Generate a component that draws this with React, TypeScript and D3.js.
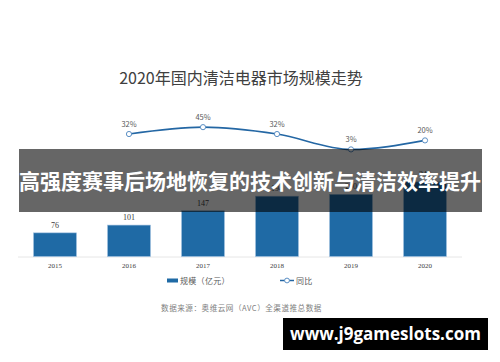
import React from "react";
import * as d3 from "d3";

const years = ["2015", "2016", "2017", "2018", "2019", "2020"];
const scale = [76, 101, 147, 194, 200, 240];
const yoyYears = ["2016", "2017", "2018", "2019", "2020"];
const yoy = [32, 45, 32, 3, 20];
const title = "2020年国内清洁电器市场规模走势";
const legendBar = "规模（亿元）";
const legendLine = "同比";
const source = "数据来源：奥维云网（AVC）全渠道推总数据";
const overlay = "高强度赛事后场地恢复的技术创新与清洁效率提升";
const watermark = "www.j9gameslots.com";

const W = 500;
const H = 362;
const BAR = "#1f6aa5";
const LINE = "#2467a4";

export default function App() {
  const x = d3.scaleBand().domain(years).range([18, 462]).paddingInner(0.42).paddingOuter(0.21);
  const xc = (d: string) => (x(d) as number) + x.bandwidth() / 2;
  const yBar = d3.scaleLinear().domain([0, 300]).range([256.5, 163.2]);
  const yLine = d3.scaleLinear().domain([0, 100]).range([151, 98]);
  const lineGen = d3
    .line<number>()
    .x((_, i) => xc(yoyYears[i]))
    .y((d) => yLine(d))
    .curve(d3.curveMonotoneX);

  const serif = "'Liberation Serif', 'DejaVu Serif', serif";
  const cjk = "'Noto Sans CJK SC', sans-serif";

  return (
    <svg width={W} height={H} style={{ position: "absolute", left: 0, top: 0, background: "#fff" }}>
      <rect width={W} height={H} fill="#fff" />
      <text x={241} y={84} textAnchor="middle" fontSize={16} fill="#404040" fontFamily={cjk}>
        {title}
      </text>

      {/* axis line */}
      <line x1={18} x2={462} y1={257} y2={257} stroke="#e6e6e6" strokeWidth={1} />

      {years.map((yr, i) => (
        <g key={yr}>
          <rect
            x={x(yr)}
            y={yBar(scale[i])}
            width={x.bandwidth()}
            height={yBar(0) - yBar(scale[i])}
            fill={BAR}
            stroke="#9dbfdf"
            strokeWidth={0.6}
          />
          <text x={xc(yr)} y={yBar(scale[i]) - 5} textAnchor="middle" fontSize={8} fill="#404040" fontFamily={serif}>
            {scale[i]}
          </text>
          <text x={xc(yr)} y={268} textAnchor="middle" fontSize={7} fill="#404040" fontFamily={serif}>
            {yr}
          </text>
        </g>
      ))}

      <path d={lineGen(yoy) || ""} fill="none" stroke={LINE} strokeWidth={1.6} />
      {yoy.map((v, i) => (
        <g key={i}>
          <circle cx={xc(yoyYears[i])} cy={yLine(v)} r={2.6} fill="#fff" stroke="#5b8fc4" strokeWidth={1} />
          <text x={xc(yoyYears[i])} y={yLine(v) - 7} textAnchor="middle" fontSize={7.5} fill="#595959" fontFamily={cjk}>
            {v}%
          </text>
        </g>
      ))}

      {/* legend */}
      <rect x={167} y={278.5} width={11} height={4} fill={BAR} />
      <text x={180} y={284} fontSize={8} letterSpacing={0.3} fill="#595959" fontFamily={cjk}>
        {legendBar}
      </text>
      <line x1={280} x2={294} y1={280.5} y2={280.5} stroke={LINE} strokeWidth={1.5} />
      <circle cx={287} cy={280.5} r={2.4} fill="#fff" stroke="#5b8fc4" strokeWidth={1} />
      <text x={296} y={284} fontSize={8} letterSpacing={0.3} fill="#595959" fontFamily={cjk}>
        {legendLine}
      </text>

      <text x={241.5} y={311} textAnchor="middle" fontSize={7.6} letterSpacing={0.5} fill="#7f7f7f" fontFamily={cjk}>
        {source}
      </text>

      {/* overlay band */}
      <rect x={19} y={149} width={463} height={63} fill="rgba(0,0,0,0.6)" />
      <text x={250} y={189} textAnchor="middle" fontSize={21} fontWeight="bold" fill="#fff" fontFamily={cjk}>
        {overlay}
      </text>

      {/* watermark */}
      <rect x={283} y={318} width={205} height={32} fill="#000" />
      <text x={385.5} y={340} textAnchor="middle" fontSize={17} fontWeight="bold" fill="#fff" fontFamily="'Open Sans', 'DejaVu Sans', sans-serif">
        {watermark}
      </text>
    </svg>
  );
}
